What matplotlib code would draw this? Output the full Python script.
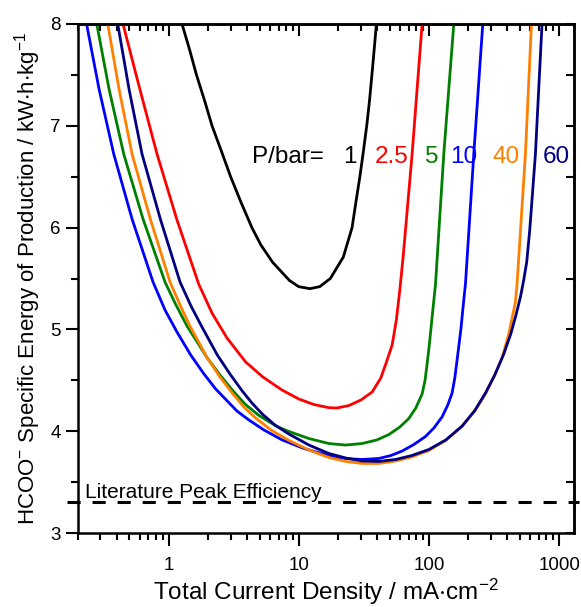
import numpy as np
import matplotlib
matplotlib.use('Agg')
import matplotlib.pyplot as plt
from matplotlib.ticker import LogLocator, MultipleLocator, NullFormatter

plt.rcParams['font.family'] = ['Liberation Sans', 'DejaVu Sans']
plt.rcParams['mathtext.fontset'] = 'custom'
plt.rcParams['mathtext.rm'] = 'Liberation Sans'
plt.rcParams['mathtext.it'] = 'Liberation Sans'
plt.rcParams['mathtext.default'] = 'regular'

######## data: current density (mA/cm2) vs energy (kWh/kg) ########
pressures = ['1', '2.5', '5', '10', '40', '60']
colors = ['black', '#ff0000', '#008000', '#0000ff', '#ff8000', '#000080']

j_1 = [1.27, 1.45, 1.64, 1.89, 2.16, 2.55, 3.0, 3.6, 4.37, 5.12, 6.3, 8.5, 10, 12.2, 14.5, 17.5,
       22, 25.7, 27.5, 29.5, 31.4, 33.3, 35, 36.5, 38, 39.5]
E_1 = [8.0, 7.75, 7.5, 7.25, 7.0, 6.75, 6.5, 6.25, 6.0, 5.83, 5.66, 5.48, 5.42, 5.40, 5.42, 5.5,
       5.71, 6.0, 6.25, 6.5, 6.75, 7.0, 7.25, 7.5, 7.75, 8.0]

j_2p5 = [0.4474, 0.5937, 0.8162, 1.162, 1.705, 2.157, 2.812, 3.913, 5.312, 7.431, 10.04, 13.08, 17.05,
         19.65, 24.28, 30.01, 36.66, 42.74, 47.77, 52.20, 56.21, 59.79, 63.60, 74.31, 88.68]
E_2p5 = [8.0, 7.391, 6.723, 6.075, 5.446, 5.161, 4.916, 4.680, 4.532, 4.405, 4.316, 4.262, 4.231,
         4.228, 4.252, 4.306, 4.385, 4.523, 4.699, 4.847, 5.092, 5.387, 5.731, 6.723, 8.0]

j_5 = [0.2812, 0.3494, 0.4530, 0.6371, 0.9400, 1.122, 1.387, 1.986, 2.485, 3.088, 3.864, 4.950, 6.803,
       8.412, 11.98, 17.05, 22.91, 30.71, 39.83, 49.24, 59.79, 70.10, 79.34, 88.68, 93.50, 96.87,
       100.7, 105.3, 112.4, 130.1, 155.3]
E_5 = [8.0, 7.361, 6.723, 6.085, 5.466, 5.259, 5.033, 4.719, 4.552, 4.405, 4.267, 4.154, 4.046,
       3.997, 3.928, 3.879, 3.864, 3.879, 3.914, 3.967, 4.041, 4.125, 4.228, 4.365, 4.503, 4.660,
       4.847, 5.092, 5.446, 6.723, 8.0]

j_10 = [0.2349, 0.2928, 0.3797, 0.5248, 0.7603, 0.9400, 1.162, 1.480, 1.873, 2.303, 3.356, 4.148,
        5.407, 7.470, 10.96, 17.05, 22.91, 30.55, 41.26, 51.01, 62.27, 76.57, 94.17, 109.1, 126.2,
        139.6, 150.7, 158.1, 164.6, 175.8, 185.3, 190.9, 221.2, 259.3]
E_10 = [8.0, 7.361, 6.723, 6.085, 5.466, 5.191, 4.974, 4.749, 4.562, 4.415, 4.198, 4.110,
        4.012, 3.914, 3.830, 3.761, 3.732, 3.722, 3.732, 3.761, 3.805, 3.869, 3.948, 4.031, 4.140,
        4.257, 4.375, 4.523, 4.699, 4.994, 5.289, 5.446, 6.723, 8.0]

j_40 = [0.3415, 0.4169, 0.5248, 0.7249, 1.027, 1.226, 1.462, 1.986, 2.485, 3.088, 3.796, 4.670,
        6.118, 8.412, 11.98, 17.05, 22.91, 30.71, 41.26, 55.42, 73.92, 99.82, 134.8, 179.8, 225.1,
        271.9, 320.5, 364.6, 410.5, 462.0, 475.3, 551.2, 613.0]
E_40 = [8.0, 7.361, 6.723, 6.085, 5.466, 5.240, 5.033, 4.719, 4.532, 4.375, 4.238, 4.130,
        4.012, 3.909, 3.815, 3.742, 3.703, 3.683, 3.683, 3.707, 3.747, 3.810, 3.909, 4.046, 4.198,
        4.365, 4.552, 4.719, 4.955, 5.269, 5.446, 6.723, 8.0]

j_60 = [0.4074, 0.4975, 0.6259, 0.8652, 1.226, 1.488, 1.807, 2.369, 2.965, 3.685, 4.374, 5.248,
        6.567, 8.412, 11.98, 17.05, 22.91, 30.71, 41.26, 55.42, 73.92, 99.82, 134.8, 179.8, 225.1,
        271.9, 320.5, 375.6, 425.3, 464.5, 504.7, 534.9, 564.0, 594.9, 657.9, 739.3]
E_60 = [8.0, 7.361, 6.723, 6.085, 5.466, 5.230, 5.024, 4.749, 4.562, 4.395, 4.277, 4.169,
        4.061, 3.972, 3.864, 3.781, 3.737, 3.707, 3.703, 3.722, 3.761, 3.820, 3.914, 4.051, 4.203,
        4.375, 4.552, 4.758, 4.955, 5.132, 5.318, 5.485, 5.662, 5.976, 6.723, 8.0]

lit_peak = 3.30

series = [(j_1, E_1), (j_2p5, E_2p5), (j_5, E_5), (j_10, E_10), (j_40, E_40), (j_60, E_60)]

######## plot ########
fig = plt.figure(figsize=(5.81, 6.07), dpi=100)
ax = fig.add_axes([77.5/581, 1-533/607, 496/581, 509/607])

for (jj, ee), c in zip(series, colors):
    ax.plot(jj, ee, color=c, linewidth=2.0, solid_joinstyle='round')

ax.axhline(lit_peak, xmin=-0.022, xmax=1.012, color='black', linewidth=2.2,
           dashes=(4.3, 3.9), clip_on=False)
ax.text(0.229, 3.34, 'Literature Peak Efficiency', fontsize=15, va='baseline', ha='left')

# pressure labels
ax.text(0.351, 0.727, 'P/bar=', transform=ax.transAxes, fontsize=17.5, color='black', va='baseline')
lab_x = [0.535, 0.600, 0.700, 0.751, 0.836, 0.937]
for xa, p, c in zip(lab_x, pressures, colors):
    ax.text(xa, 0.727, p, transform=ax.transAxes, fontsize=17.5, color=c, va='baseline')

ax.set_xscale('log')
ax.set_xlim(0.2, 1290)
ax.set_ylim(3, 8)
ax.xaxis.set_minor_locator(LogLocator(base=10, subs=np.arange(2, 10)))
ax.xaxis.set_minor_formatter(NullFormatter())
ax.set_xticks([1, 10, 100, 1000])
ax.set_xticklabels(['1', '10', '100', '1000'])
ax.yaxis.set_major_locator(MultipleLocator(1))
ax.yaxis.set_minor_locator(MultipleLocator(0.5))

for s in ax.spines.values():
    s.set_linewidth(1.8)

ax.tick_params(axis='both', which='both', direction='out', width=1.5, labelsize=13.5)
ax.tick_params(axis='x', which='major', length=9.5, pad=8)
ax.tick_params(axis='x', which='minor', length=5)
ax.tick_params(axis='y', which='major', length=8.5, pad=3.5)
ax.tick_params(axis='y', which='minor', length=5)

# inward ticks on top and right
top = ax.secondary_xaxis('top')
top.xaxis.set_major_locator(LogLocator(base=10))
top.xaxis.set_minor_locator(LogLocator(base=10, subs=np.arange(2, 10)))
top.tick_params(axis='x', which='both', direction='in', width=1.5, labeltop=False)
top.tick_params(axis='x', which='major', length=8.5)
top.tick_params(axis='x', which='minor', length=5)
top.spines['top'].set_linewidth(1.8)
right = ax.secondary_yaxis('right')
right.yaxis.set_major_locator(MultipleLocator(1))
right.yaxis.set_minor_locator(MultipleLocator(0.5))
right.tick_params(axis='y', which='both', direction='in', width=1.5, length=5.5, labelright=False)
right.spines['right'].set_linewidth(1.8)

ax.set_xlabel(r'Total Current Density / mA$\cdot$cm$^{-2}$', fontsize=17.5, labelpad=2)
ax.set_ylabel(r'HCOO$^{-}$ Specific Energy of Production / kW$\cdot$h$\cdot$kg$^{-1}$',
              fontsize=16, labelpad=5)

fig.savefig('out.png', dpi=100)
